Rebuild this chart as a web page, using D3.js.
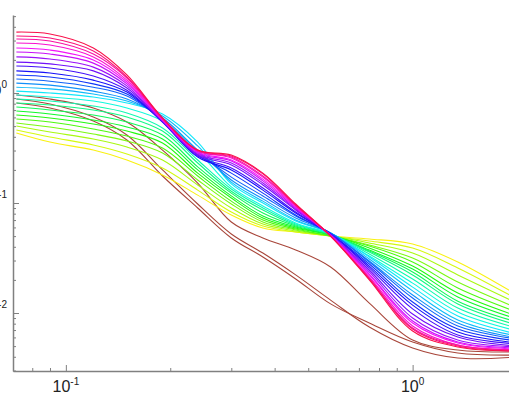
<!DOCTYPE html>
<html>
<head>
<meta charset="utf-8">
<script src="https://cdn.jsdelivr.net/npm/d3@7"></script>
<style>
  html, body { margin: 0; padding: 0; background: #fff; overflow: hidden; }
  svg { display: block; }
</style>
</head>
<body>
<div id="chart"></div>
<script>
// sample positions along x (shared by every curve)
const xValues = [0.072, 0.09, 0.12, 0.15, 0.19, 0.24, 0.3, 0.37, 0.46, 0.58, 0.75, 1.0, 1.35, 2.0];

// rainbow family, listed from the top curve at the left (red) to the bottom one (yellow)
const spectrumSeries = [
  [3.58, 3.44, 2.57, 1.46, 0.593, 0.303, 0.273, 0.187, 0.0979, 0.0501, 0.0200, 0.00686, 0.00491, 0.00451],
  [3.30, 3.16, 2.41, 1.40, 0.593, 0.303, 0.267, 0.184, 0.0959, 0.0501, 0.0204, 0.00715, 0.00501, 0.00451],
  [3.10, 2.97, 2.26, 1.37, 0.580, 0.297, 0.262, 0.176, 0.0959, 0.0501, 0.0208, 0.00731, 0.00512, 0.00461],
  [2.85, 2.73, 2.13, 1.31, 0.580, 0.297, 0.257, 0.172, 0.0939, 0.0501, 0.0213, 0.00762, 0.00512, 0.00461],
  [2.57, 2.46, 2.00, 1.26, 0.568, 0.291, 0.246, 0.165, 0.0920, 0.0501, 0.0222, 0.00811, 0.00534, 0.00471],
  [2.36, 2.26, 1.87, 1.21, 0.568, 0.285, 0.241, 0.159, 0.0901, 0.0512, 0.0226, 0.00846, 0.00545, 0.00481],
  [2.13, 2.04, 1.72, 1.16, 0.557, 0.279, 0.231, 0.152, 0.0882, 0.0512, 0.0236, 0.00901, 0.00568, 0.00491],
  [1.91, 1.84, 1.59, 1.11, 0.557, 0.273, 0.222, 0.146, 0.0864, 0.0512, 0.0246, 0.00979, 0.00605, 0.00501],
  [1.76, 1.69, 1.43, 1.06, 0.545, 0.267, 0.208, 0.137, 0.0828, 0.0523, 0.0257, 0.0109, 0.00631, 0.00523],
  [1.59, 1.52, 1.31, 1.02, 0.545, 0.262, 0.200, 0.131, 0.0811, 0.0523, 0.0267, 0.0118, 0.00672, 0.00534],
  [1.46, 1.40, 1.21, 0.979, 0.557, 0.273, 0.187, 0.123, 0.0778, 0.0523, 0.0279, 0.0126, 0.00715, 0.00557],
  [1.34, 1.28, 1.13, 0.939, 0.568, 0.291, 0.172, 0.116, 0.0762, 0.0534, 0.0291, 0.0137, 0.00762, 0.00580],
  [1.23, 1.18, 1.04, 0.882, 0.593, 0.303, 0.162, 0.109, 0.0731, 0.0534, 0.0297, 0.0146, 0.00811, 0.00593],
  [1.13, 1.09, 0.979, 0.846, 0.618, 0.330, 0.155, 0.104, 0.0701, 0.0534, 0.0310, 0.0159, 0.00864, 0.00618],
  [1.04, 1.00, 0.920, 0.811, 0.644, 0.358, 0.149, 0.100, 0.0686, 0.0534, 0.0323, 0.0172, 0.00939, 0.00644],
  [0.959, 0.920, 0.846, 0.731, 0.557, 0.297, 0.140, 0.0939, 0.0658, 0.0523, 0.0330, 0.0187, 0.0102, 0.00686],
  [0.882, 0.846, 0.762, 0.658, 0.481, 0.246, 0.134, 0.0901, 0.0644, 0.0523, 0.0344, 0.0204, 0.0111, 0.00731],
  [0.811, 0.778, 0.701, 0.605, 0.451, 0.231, 0.128, 0.0864, 0.0631, 0.0523, 0.0358, 0.0222, 0.0121, 0.00778],
  [0.746, 0.701, 0.631, 0.545, 0.415, 0.213, 0.123, 0.0811, 0.0618, 0.0512, 0.0366, 0.0236, 0.0128, 0.00828],
  [0.686, 0.644, 0.568, 0.491, 0.382, 0.200, 0.116, 0.0762, 0.0605, 0.0512, 0.0374, 0.0251, 0.0140, 0.00882],
  [0.631, 0.593, 0.523, 0.451, 0.351, 0.187, 0.111, 0.0731, 0.0593, 0.0512, 0.0390, 0.0267, 0.0152, 0.00939],
  [0.580, 0.545, 0.471, 0.406, 0.316, 0.176, 0.104, 0.0701, 0.0580, 0.0501, 0.0406, 0.0291, 0.0169, 0.0102],
  [0.534, 0.491, 0.424, 0.366, 0.285, 0.162, 0.0979, 0.0672, 0.0568, 0.0501, 0.0415, 0.0316, 0.0191, 0.0111],
  [0.501, 0.442, 0.382, 0.323, 0.246, 0.146, 0.0901, 0.0644, 0.0557, 0.0501, 0.0433, 0.0351, 0.0222, 0.0123],
  [0.461, 0.398, 0.337, 0.279, 0.208, 0.131, 0.0828, 0.0618, 0.0545, 0.0501, 0.0451, 0.0390, 0.0257, 0.0134],
  [0.433, 0.358, 0.303, 0.246, 0.180, 0.118, 0.0778, 0.0593, 0.0545, 0.0501, 0.0471, 0.0424, 0.0291, 0.0146]
];

// the three dark red curves that fall below the family
const brownSeries = [
  [0.959, 0.882, 0.731, 0.545, 0.303, 0.152, 0.0672, 0.0481, 0.0374, 0.0262, 0.0123, 0.00568, 0.00461, 0.00442],
  [0.882, 0.794, 0.605, 0.415, 0.200, 0.0979, 0.0523, 0.0351, 0.0222, 0.0131, 0.00746, 0.00481, 0.00390, 0.00398],
  [0.811, 0.731, 0.557, 0.374, 0.176, 0.0901, 0.0481, 0.0323, 0.0204, 0.0121, 0.00811, 0.00545, 0.00433, 0.00415]
];

const xMajorTicks = [0.1, 1];
const xMajorExponents = ['-1', '0'];
const xMinorTicks = [0.08, 0.09, 0.2, 0.3, 0.4, 0.5, 0.6, 0.7, 0.8, 0.9, 2];
const yMajorTicks = [1, 0.1, 0.01];
const yMajorExponents = ['0', '-1', '-2'];
const yMinorTicks = [5, 4, 3, 2, 0.9, 0.8, 0.7, 0.6, 0.5, 0.4, 0.3, 0.2,
  0.09, 0.08, 0.07, 0.06, 0.05, 0.04, 0.03, 0.02,
  0.009, 0.008, 0.007, 0.006, 0.005, 0.004, 0.003];

const width = 509;
const height = 396;
const axisColor = '#808080';
const labelFont = '"Liberation Sans", Arial, sans-serif';

const svg = d3.select('#chart')
  .append('svg')
  .attr('width', width)
  .attr('height', height);

const x = d3.scaleLog()
  .domain([0.0704, 2])
  .range([13, 517]);

const y = d3.scaleLog()
  .domain([0.00297, 5.12])
  .range([371, 15]);

const line = d3.line()
  .x((d, i) => x(xValues[i]))
  .y(d => y(d))
  .curve(d3.curveCatmullRom.alpha(0.5));

const hue = d3.scaleLinear()
  .domain([0, spectrumSeries.length - 1])
  .range([345, 58]);

// brown ones first, then yellow -> red so the red/magenta lines sit on top
svg.append('g')
  .selectAll('path')
  .data(brownSeries)
  .enter().append('path')
  .attr('fill', 'none')
  .attr('stroke', '#a8463a')
  .attr('stroke-width', 1.1)
  .attr('d', line);

const ordered = spectrumSeries.map((s, i) => ({ s, i })).reverse();

svg.append('g')
  .selectAll('path')
  .data(ordered)
  .enter().append('path')
  .attr('fill', 'none')
  .attr('stroke', d => d3.hsl(hue(d.i), 0.95, 0.52).formatHex())
  .attr('stroke-width', 1.1)
  .attr('d', d => line(d.s));

// axes: minor ticks, then longer major ticks, both pointing inward
function styleAxis(g) {
  g.select('.domain').attr('stroke', axisColor).attr('stroke-width', 1.5);
  g.selectAll('.tick line').attr('stroke', axisColor).attr('stroke-width', 1);
  g.selectAll('.tick text').remove();
}

svg.append('g')
  .attr('transform', `translate(0,${y.range()[0]})`)
  .call(d3.axisBottom(x).tickValues(xMinorTicks).tickSize(-3).tickSizeOuter(0).tickFormat(''))
  .call(styleAxis);

svg.append('g')
  .attr('transform', `translate(0,${y.range()[0]})`)
  .call(d3.axisBottom(x).tickValues(xMajorTicks).tickSize(-6).tickSizeOuter(0).tickFormat(''))
  .call(styleAxis)
  .select('.domain').remove();

svg.append('g')
  .attr('transform', `translate(${x.range()[0]},0)`)
  .call(d3.axisLeft(y).tickValues(yMinorTicks).tickSize(-3).tickSizeOuter(0).tickFormat(''))
  .call(styleAxis);

svg.append('g')
  .attr('transform', `translate(${x.range()[0]},0)`)
  .call(d3.axisLeft(y).tickValues(yMajorTicks).tickSize(-6).tickSizeOuter(0).tickFormat(''))
  .call(styleAxis)
  .select('.domain').remove();

// power-of-ten labels (the y ones run off the left edge, as in the original)
function powerLabel(sel, exp, big, small) {
  sel.append('tspan').attr('font-size', big).text('10');
  sel.append('tspan').attr('font-size', small).attr('dy', -7).text(exp);
}

xMajorTicks.forEach((v, i) => {
  svg.append('text')
    .attr('x', x(v))
    .attr('y', 392)
    .attr('text-anchor', 'middle')
    .attr('font-family', labelFont)
    .attr('fill', '#222')
    .call(powerLabel, xMajorExponents[i], 16, 10);
});

yMajorTicks.forEach((v, i) => {
  svg.append('text')
    .attr('x', 7)
    .attr('y', y(v) + 2)
    .attr('text-anchor', 'end')
    .attr('font-family', labelFont)
    .attr('fill', '#222')
    .call(powerLabel, yMajorExponents[i], 15, 10);
});
</script>
</body>
</html>
